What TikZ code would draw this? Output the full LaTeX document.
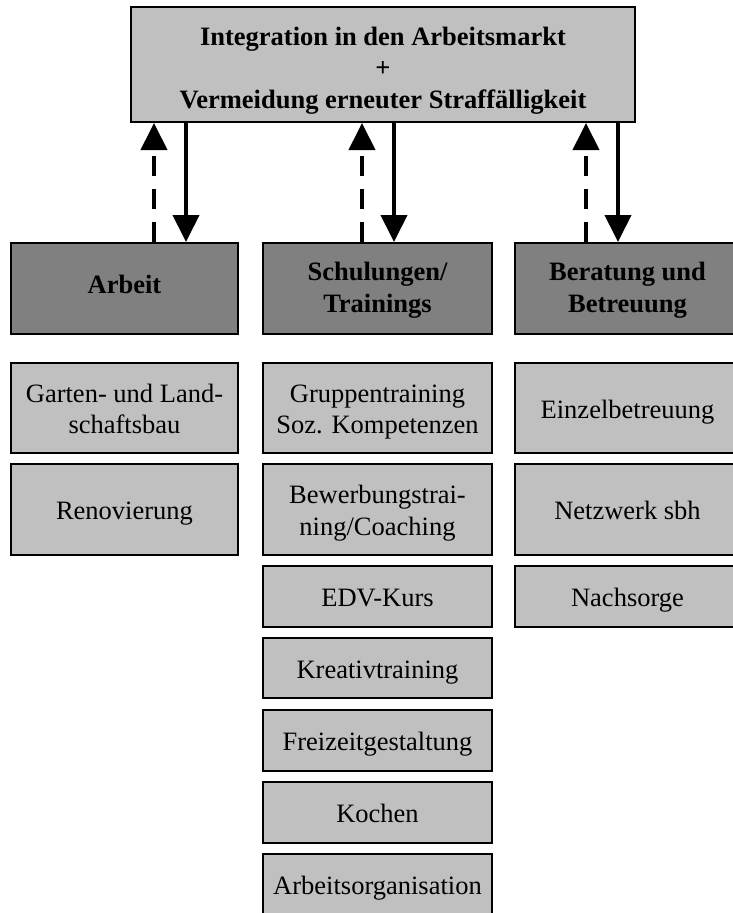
\documentclass[tikz,border=0pt]{standalone}
\usepackage{fontspec}
\setmainfont{Liberation Serif}
\usetikzlibrary{arrows.meta}
\definecolor{lightbox}{HTML}{C0C0C0}
\definecolor{darkbox}{HTML}{808080}
\begin{document}
\begin{tikzpicture}[x=1pt,y=1pt,
  basebox/.style={draw=black, line width=2pt, inner sep=0pt, align=center,
    font=\fontsize{26.5}{31.5}\selectfont},
  topbox/.style={basebox, fill=lightbox, font=\fontsize{26.5}{31.5}\selectfont\bfseries,
    text height=87pt, text depth=0pt},
  headbox/.style={basebox, fill=darkbox, font=\fontsize{26.5}{32}\selectfont\bfseries},
  itembox/.style={basebox, fill=lightbox},
  oneline/.style={text height=20pt, text depth=0pt},
  headone/.style={text height=20pt, text depth=11pt},
  headtwo/.style={text height=48pt, text depth=0pt},
  itemtwo/.style={text height=51pt, text depth=0pt},
  downarrow/.style={line width=4pt, -{Triangle[length=27pt,width=26pt]}},
  uparrow/.style={line width=4pt, dash pattern=on 20pt off 13pt, -{Triangle[length=27pt,width=26pt]}},
]
\useasboundingbox (0,0) rectangle (733,-913);
\begin{scope}
\clip (0,0) rectangle (733,-913);
% top box
\node[topbox, minimum width=504pt, minimum height=115pt] (top) at (383,-64.5)
  {Integration in den Arbeitsmarkt\\+\\Vermeidung erneuter Straff\"alligkeit};
% headers
\node[headbox, headone, minimum width=227pt, minimum height=91pt] (arb) at (124.5,-288.5) {Arbeit};
\node[headbox, headtwo, minimum width=229pt, minimum height=91pt] (sch) at (377.5,-288.5) {Schulungen/\\Trainings};
\node[headbox, headtwo, minimum width=225pt, minimum height=91pt] (ber) at (627.5,-288.5) {Beratung und\\Betreuung};
% column 1
\node[itembox, itemtwo, minimum width=227pt, minimum height=90pt] (garten) at (124.5,-408) {Garten- und Land-\\schaftsbau};
\node[itembox, oneline, minimum width=227pt, minimum height=91pt] (renov) at (124.5,-509.5) {Renovierung};
% column 2
\node[itembox, itemtwo, minimum width=229pt, minimum height=90pt] (grupp) at (377.5,-408) {Gruppentraining\\Soz. Kompetenzen};
\node[itembox, itemtwo, minimum width=229pt, minimum height=91pt] (bewerb) at (377.5,-509.5) {Bewerbungstrai-\\ning/Coaching};
\node[itembox, oneline, minimum width=229pt, minimum height=61pt] (edv) at (377.5,-596.5) {EDV-Kurs};
\node[itembox, oneline, minimum width=229pt, minimum height=60pt] (kreativ) at (377.5,-668) {Kreativtraining};
\node[itembox, oneline, minimum width=229pt, minimum height=61pt] (freizeit) at (377.5,-740.5) {Freizeitgestaltung};
\node[itembox, oneline, minimum width=229pt, minimum height=61pt] (kochen) at (377.5,-812.5) {Kochen};
\node[itembox, oneline, minimum width=229pt, minimum height=61pt] (orga) at (377.5,-884.5) {Arbeitsorganisation};
% column 3
\node[itembox, oneline, minimum width=225pt, minimum height=90pt] (einzel) at (627.5,-408) {Einzelbetreuung};
\node[itembox, oneline, minimum width=225pt, minimum height=91pt] (netz) at (627.5,-509.5) {Netzwerk sbh};
\node[itembox, oneline, minimum width=225pt, minimum height=61pt] (nach) at (627.5,-596.5) {Nachsorge};
\end{scope}
% arrows
\draw[downarrow] ([xshift=176pt]arb.north west |- top.south) -- ([xshift=176pt]arb.north west);
\draw[uparrow] ([xshift=144pt]arb.north west) -- ([xshift=144pt]arb.north west |- top.south);
\draw[downarrow] ([xshift=132pt]sch.north west |- top.south) -- ([xshift=132pt]sch.north west);
\draw[uparrow] ([xshift=100pt]sch.north west) -- ([xshift=100pt]sch.north west |- top.south);
\draw[downarrow] ([xshift=104pt]ber.north west |- top.south) -- ([xshift=104pt]ber.north west);
\draw[uparrow] ([xshift=72pt]ber.north west) -- ([xshift=72pt]ber.north west |- top.south);
\end{tikzpicture}
\end{document}
